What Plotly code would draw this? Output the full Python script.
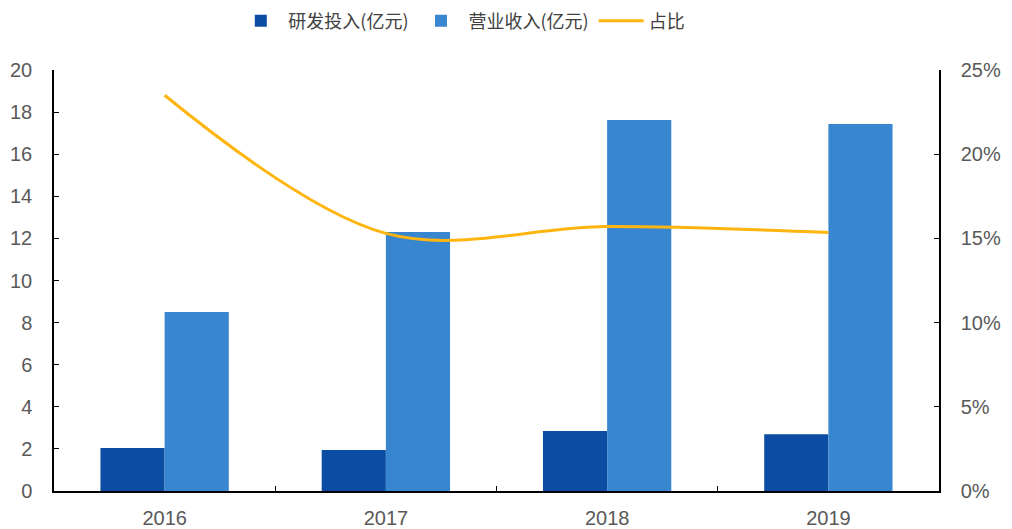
import plotly.graph_objects as go

years = ["2016", "2017", "2018", "2019"]
rd_invest = [2.04, 1.95, 2.85, 2.70]
revenue = [8.50, 12.30, 17.62, 17.43]
ratio = [23.5, 15.3, 15.7, 15.35]

left_ticks = [0, 2, 4, 6, 8, 10, 12, 14, 16, 18, 20]
right_ticks = [0, 5, 10, 15, 20, 25]
right_labels = ["0%", "5%", "10%", "15%", "20%", "25%"]

fig = go.Figure()
fig.add_trace(go.Bar(x=years, y=rd_invest, name="研发投入(亿元)", marker_color="#0B4DA2",
                     marker_line_width=0))
fig.add_trace(go.Bar(x=years, y=revenue, name="营业收入(亿元)", marker_color="#3886D0",
                     marker_line_width=0))
fig.add_trace(go.Scatter(x=years, y=ratio, name="占比", mode="lines", yaxis="y2",
                         line=dict(color="#FFB50F", width=3, shape="spline", smoothing=1.0)))

tickfont = dict(family="Liberation Sans, Arial", size=20, color="#595959")
fig.update_layout(
    width=1004, height=521,
    margin=dict(l=46, r=73, t=62, b=38, autoexpand=False),
    paper_bgcolor="white", plot_bgcolor="white",
    barmode="group", bargap=0.42, bargroupgap=0,
    showlegend=True,
    legend=dict(orientation="h", x=0.452, xanchor="center", xref="container",
                y=0.975, yanchor="middle", yref="container",
                font=dict(family="Noto Sans CJK SC", size=18, color="#404040"),
                itemwidth=45, traceorder="normal"),
    xaxis=dict(type="category", showline=True, linecolor="black", linewidth=1.5,
               ticks="inside", tickson="boundaries", ticklen=5, tickcolor="black",
               tickfont=tickfont, showgrid=False, zeroline=False, automargin=False,
               ticklabelstandoff=8),
    yaxis=dict(range=[0, 20], tickvals=left_ticks, showline=True, linecolor="black",
               linewidth=1.5, ticks="inside", ticklen=5, tickcolor="black",
               tickfont=tickfont, showgrid=False, zeroline=False, ticklabelstandoff=16,
               automargin=False),
    yaxis2=dict(range=[0, 25], tickvals=right_ticks, ticktext=right_labels,
                overlaying="y", side="right", showline=True, linecolor="black",
                linewidth=1.5, ticks="inside", ticklen=5, tickcolor="black",
                tickfont=tickfont, showgrid=False, zeroline=False, ticklabelstandoff=16,
                automargin=False),
)
fig.write_html("out.html")
